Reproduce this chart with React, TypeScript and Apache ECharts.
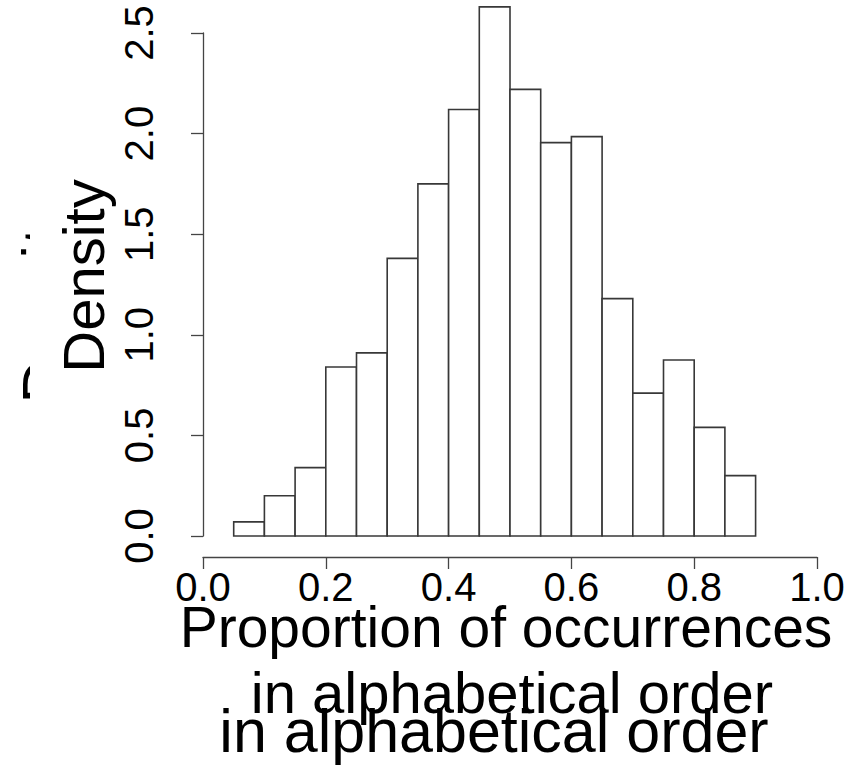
import React, { useEffect, useRef } from "react";
import * as echarts from "echarts";

// Histogram bins (left edges), bin width and densities
const binStarts = [0.05, 0.1, 0.15, 0.2, 0.25, 0.3, 0.35, 0.4, 0.45, 0.5, 0.55, 0.6, 0.65, 0.7, 0.75, 0.8, 0.85];
const binWidth = 0.05;
const densities = [0.07, 0.2, 0.34, 0.84, 0.91, 1.38, 1.75, 2.12, 2.63, 2.22, 1.955, 1.985, 1.18, 0.71, 0.875, 0.54, 0.3];

const xTicks = [0, 0.2, 0.4, 0.6, 0.8, 1.0];
const yTicks = [0, 0.5, 1.0, 1.5, 2.0, 2.5];

const yLabel = "Density";
const xLabelLines = ["Proportion of occurrences", "in alphabetical order", "in alphabetical order"];

const FONT = "'Liberation Sans', Arial, sans-serif";

export default function App() {
  const ref = useRef<HTMLDivElement>(null);
  useEffect(() => {
    if (!ref.current) return;
    const chart = echarts.init(ref.current, null, { renderer: "svg" });
    const data = binStarts.map((s, i) => [s, s + binWidth, densities[i]]);
    chart.setOption({
      animation: false,
      backgroundColor: "#ffffff",
      grid: { left: 203, right: 44, top: 33, bottom: 246, containLabel: false },
      xAxis: {
        type: "value",
        min: xTicks[0],
        max: xTicks[xTicks.length - 1],
        interval: 0.2,
        offset: 21,
        splitLine: { show: false },
        axisLine: { show: true, onZero: false, lineStyle: { color: "#444", width: 1.3 } },
        axisTick: { show: true, length: 12, lineStyle: { color: "#444", width: 1.3 } },
        axisLabel: {
          color: "#000",
          fontFamily: FONT,
          fontSize: 40,
          margin: 10,
          formatter: (v: number) => v.toFixed(1),
        },
      },
      yAxis: {
        type: "value",
        min: yTicks[0],
        max: yTicks[yTicks.length - 1],
        interval: 0.5,
        offset: 25,
        splitLine: { show: false },
        axisLine: { show: true, lineStyle: { color: "#444", width: 1.3 } },
        axisTick: { show: true, length: 12, lineStyle: { color: "#444", width: 1.3 } },
        axisLabel: {
          color: "#000",
          fontFamily: FONT,
          fontSize: 40,
          rotate: 90,
          margin: 19,
          formatter: (v: number) => v.toFixed(1),
        },
      },
      series: [
        {
          type: "custom",
          clip: false,
          data,
          encode: { x: [0, 1], y: 2 },
          renderItem: (params: any, api: any) => {
            const x0 = api.value(0);
            const x1 = api.value(1);
            const h = api.value(2);
            const p0 = api.coord([x0, 0]);
            const p1 = api.coord([x1, h]);
            return {
              type: "rect",
              shape: { x: p0[0], y: p1[1], width: p1[0] - p0[0], height: p0[1] - p1[1] },
              style: { fill: "#ffffff", stroke: "#383838", lineWidth: 1.6 },
            };
          },
        },
      ],
      graphic: [
        {
          type: "text",
          x: 43,
          y: 300,
          rotation: Math.PI / 2,
          z: 0,
          style: { text: yLabel, font: `62px ${FONT}`, fill: "#000", align: "center", verticalAlign: "middle" },
        },
        {
          type: "rect",
          z: 1,
          shape: { x: 30, y: 130, width: 60, height: 320 },
          style: { fill: "#ffffff" },
        },
        {
          type: "text",
          x: 83,
          y: 276,
          rotation: Math.PI / 2,
          z: 2,
          style: { text: yLabel, font: `58px ${FONT}`, fill: "#000", align: "center", verticalAlign: "middle" },
        },
        {
          type: "text",
          x: 506,
          y: 627,
          z: 2,
          style: { text: xLabelLines[0], font: `57px ${FONT}`, fill: "#000", align: "center", verticalAlign: "middle" },
        },
        {
          type: "text",
          x: 512,
          y: 692,
          z: 2,
          style: { text: xLabelLines[1], font: `58px ${FONT}`, fill: "#000", align: "center", verticalAlign: "middle" },
        },
        {
          type: "text",
          x: 494,
          y: 731,
          z: 3,
          style: { text: xLabelLines[2], font: `61px ${FONT}`, fill: "#000", align: "center", verticalAlign: "middle" },
        },
      ],
    });
    return () => chart.dispose();
  }, []);
  return <div ref={ref} style={{ position: "fixed", left: 0, top: 0, width: 861, height: 782 }} />;
}
